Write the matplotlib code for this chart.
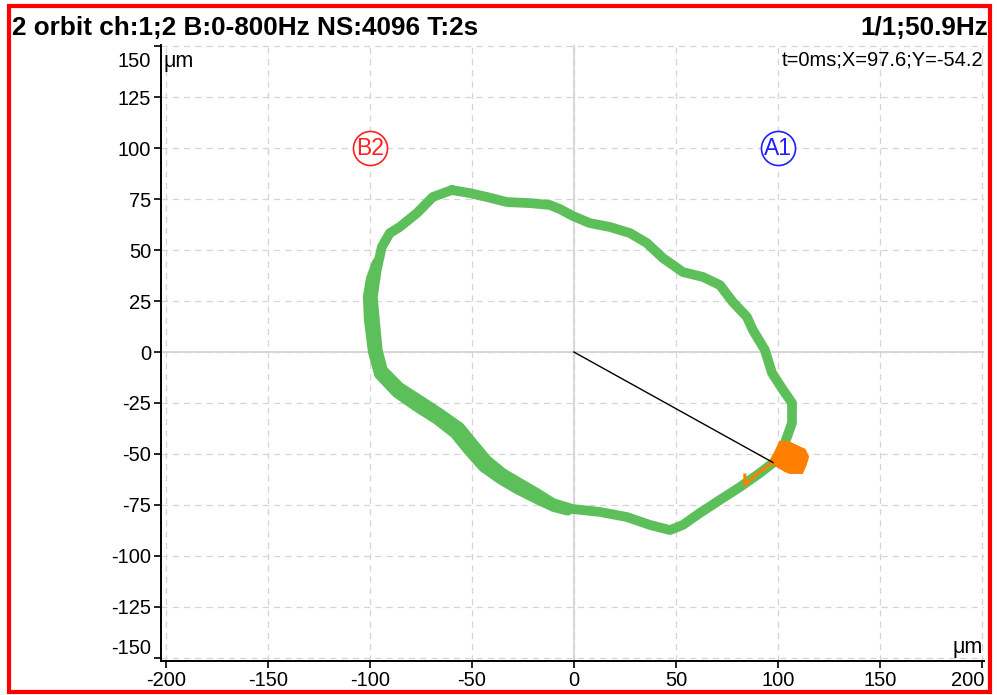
import matplotlib
matplotlib.use('Agg')
import matplotlib.pyplot as plt
import matplotlib.transforms as mtransforms
from matplotlib.patches import Rectangle

plt.rcParams['font.family'] = ['Liberation Sans', 'DejaVu Sans']

# orbit of channel 1/2 (green band, centre line of the band), um
orbit_x = [-59.8, -51.0, -42.6, -32.8, -21.6, -11.8, -6.9, -0.5, 7.8, 17.6,
           27.5, 35.8, 43.6, 53.4, 63.2, 71.6, 77.9, 84.8, 87.7, 93.6,
           97.1, 102.5, 106.9, 106.9, 103.4, 99.5, 91.2, 81.4, 71.6, 61.8,
           53.4, 47.1, 37.3, 26.0, 12.7, -0.5, -10.3, -18.1, -26.5, -34.8,
           -42.6, -49.5, -55.9, -65.7, -75.5, -85.3, -93.6, -96.1, -97.5, -98.5,
           -96.6, -94.1, -90.2, -85.3, -76.9, -69.1, -59.8]
orbit_y = [79.4, 77.9, 76.0, 73.5, 73.0, 72.1, 70.1, 66.7, 63.2, 61.3,
           58.3, 53.4, 46.1, 39.2, 36.8, 32.8, 24.5, 17.2, 10.8, 1.0,
           -10.3, -18.6, -25.0, -34.8, -44.6, -52.9, -59.3, -66.2, -72.5, -78.9,
           -84.8, -87.3, -84.8, -80.9, -78.4, -77.0, -74.0, -69.1, -64.2, -59.3,
           -52.9, -44.6, -36.8, -29.9, -23.5, -17.2, -8.8, 1.0, 15.7, 27.0,
           40.2, 51.5, 58.3, 61.3, 68.1, 76.0, 79.4]

# other cycles drifting outward on the left / lower-left side
drift_x = [-96.5, -99.5, -101.0, -100.5, -98.5, -95.5, -87.0, -77.0, -67.5, -58.5,
           -52.0, -44.5, -36.0, -27.5, -18.5, -10.0, -3.0]
drift_y = [44.0, 36.0, 27.0, 15.7, 0.0, -11.0, -20.0, -27.0, -33.0, -40.0,
           -48.0, -56.5, -62.5, -67.5, -72.0, -76.0, -77.8]

# small orange blob near the current point
blob_x = [101.0, 105.0, 113.2, 114.7, 113.5, 111.8, 105.9, 103.5, 96.1, 99.0]
blob_y = [-44.1, -44.1, -48.0, -51.5, -55.5, -59.3, -59.3, -58.3, -53.9, -48.5]
tail_x = [97.0, 90.0, 83.8, 83.8]
tail_y = [-54.5, -59.5, -65.2, -60.3]

# current point t=0ms
point_x = 97.6
point_y = -54.2

# sensor labels
sensor_names = ['B2', 'A1']
sensor_x = [-100, 100]
sensor_y = [100, 100]
sensor_colors = ['#ff2020', '#2020ff']

x_ticks = [-200, -150, -100, -50, 0, 50, 100, 150, 200]
y_ticks = [-150, -125, -100, -75, -50, -25, 0, 25, 50, 75, 100, 125, 150]

green = '#5cbf5a'
orange = '#ff8000'

fig = plt.figure(figsize=(9.97, 6.95), dpi=100)
ax = fig.add_axes([0.1615, 0.0489, 0.8255, 0.8863])
ax.set_xlim(-202.3, 201)
ax.set_ylim(-151.5, 150.5)

ax.set_xticks(x_ticks)
ax.set_yticks(y_ticks)
ax.set_xticklabels([str(v) for v in x_ticks])
ax.set_yticklabels([str(v) for v in y_ticks])
ax.tick_params(axis='both', labelsize=14.5, length=5, width=1.2, colors='black', pad=2)
ax.grid(True, linestyle=(0, (5, 4)), color='#d4d4d4', linewidth=0.9)
ax.axhline(0, color='#d6d6d6', linewidth=1.3, zorder=1)
ax.axvline(0, color='#d6d6d6', linewidth=1.3, zorder=1)

for s in ['top', 'right']:
    ax.spines[s].set_visible(False)
for s in ['left', 'bottom']:
    ax.spines[s].set_linewidth(1.4)

# end labels are pulled inside the frame like in the original software
ylabels = ax.get_yticklabels()
ylabels[-1].set_va('top')
ylabels[-1].set_transform(ylabels[-1].get_transform() +
                          mtransforms.ScaledTranslation(0, -6 / 100, fig.dpi_scale_trans))
ylabels[0].set_va('bottom')
xlabels = ax.get_xticklabels()
xlabels[-1].set_ha('right')
xlabels[-1].set_transform(xlabels[-1].get_transform() +
                          mtransforms.ScaledTranslation(2 / 100, 0, fig.dpi_scale_trans))

ax.plot(orbit_x, orbit_y, color=green, linewidth=7, solid_joinstyle='round',
        solid_capstyle='round', zorder=3)
ax.plot(drift_x, drift_y, color=green, linewidth=7, solid_joinstyle='round',
        solid_capstyle='round', zorder=3)
ax.fill(blob_x, blob_y, color=orange, zorder=4)
ax.plot(blob_x + [blob_x[0]], blob_y + [blob_y[0]], color=orange, linewidth=1.5, zorder=4)
ax.plot(tail_x, tail_y, color=orange, linewidth=2.2, zorder=4)
ax.plot([0, point_x], [0, point_y], color='black', linewidth=1.0, zorder=5)

for name, sx, sy, c in zip(sensor_names, sensor_x, sensor_y, sensor_colors):
    ax.plot(sx, sy, marker='o', markersize=24.5, markerfacecolor='white',
            markeredgecolor=c, markeredgewidth=1.2, zorder=6)
    ax.text(sx, sy, name, color=c, fontsize=16.5, ha='center', va='center', zorder=7)

ax.text(0.003, 0.974, 'μm', transform=ax.transAxes, fontsize=15.5, ha='left', va='center')
ax.text(0.9988, 0.0227, 'μm', transform=ax.transAxes, fontsize=15.5, ha='right', va='center')

fig.text(0.012, 0.9597, '2 orbit ch:1;2 B:0-800Hz NS:4096 T:2s', fontsize=18.8,
         fontweight='bold', ha='left', va='center')
fig.text(0.991, 0.9597, '1/1;50.9Hz', fontsize=18.8, fontweight='bold', ha='right', va='center')
fig.text(0.986, 0.9137, 't=0ms;X=97.6;Y=-54.2', fontsize=14.5, ha='right', va='center')

fig.patches.append(Rectangle((9 / 997, 3 / 695), 981 / 997, 686 / 695, transform=fig.transFigure,
                             fill=False, edgecolor='#ff0000', linewidth=3))

fig.savefig('out.png', dpi=100)
